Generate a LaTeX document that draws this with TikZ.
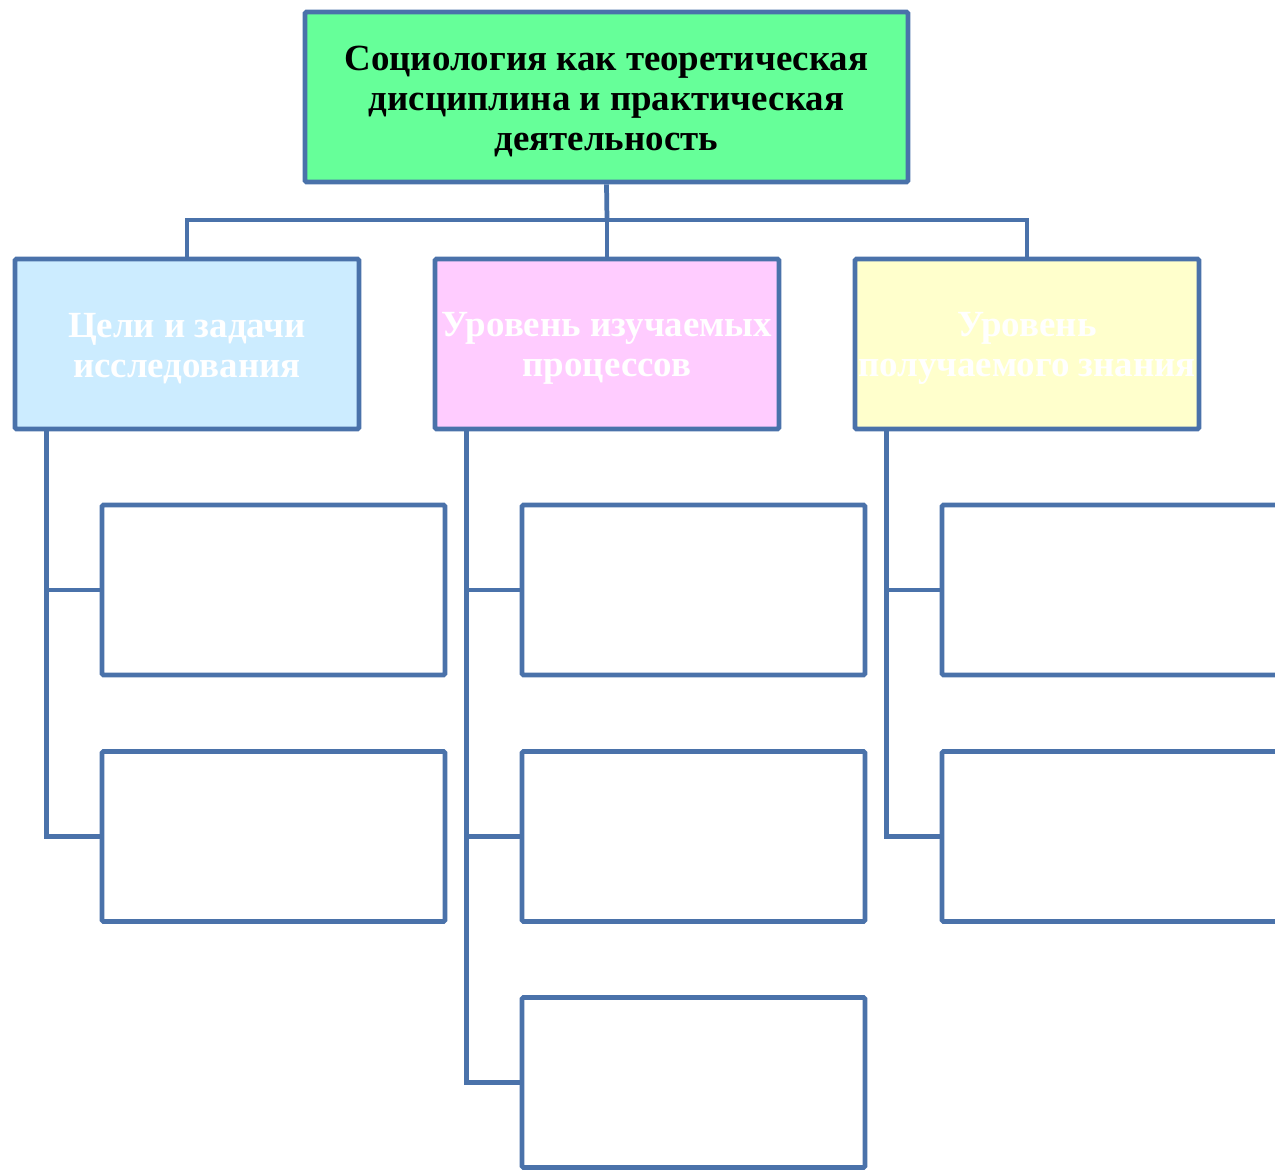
\documentclass[tikz,border=0pt]{standalone}
\usepackage{fontspec}
\setmainfont{Liberation Serif}
\definecolor{edge}{RGB}{74,114,170}
\definecolor{topfill}{RGB}{102,255,153}
\definecolor{bluefill}{RGB}{204,236,255}
\definecolor{pinkfill}{RGB}{255,204,255}
\definecolor{yellowfill}{RGB}{255,255,204}
\tikzset{
  box/.style={draw=edge, line width=2.7pt, rounded corners=0.8pt, minimum height=3.4cm, inner sep=0pt},
  boxtext/.style={align=center, yshift=-2.6pt, font=\fontsize{21}{22.8}\selectfont\bfseries},
  topbox/.style={box, fill=topfill, minimum width=12.06cm},
  headbox/.style={box, minimum width=6.88cm},
  leafbox/.style={box, fill=white, minimum width=6.86cm},
  link/.style={draw=edge, line width=2.7pt}
}
\begin{document}
\begin{tikzpicture}[x=0.02cm, y=-0.02cm]
\useasboundingbox (0,0) rectangle (1275,1171);
\node[topbox, label={[boxtext, text=black]center:Социология как теоретическая\\дисциплина и практическая\\деятельность}] (top) at (606.5,97) {};
\node[headbox, fill=bluefill, label={[boxtext, text=white]center:Цели и задачи\\исследования}] (A) at (187,344) {};
\node[headbox, fill=pinkfill, label={[boxtext, text=white]center:Уровень изучаемых\\процессов}] (B) at (607,344) {};
\node[headbox, fill=yellowfill, label={[boxtext, text=white]center:Уровень\\получаемого знания}] (C) at (1027,344) {};
\node[leafbox] (A1) at (273.5,590) {};
\node[leafbox] (A2) at (273.5,836.5) {};
\node[leafbox] (B1) at (693.5,590) {};
\node[leafbox] (B2) at (693.5,836.5) {};
\node[leafbox] (B3) at (693.5,1082.5) {};
\node[leafbox] (C1) at (1113.5,590) {};
\node[leafbox] (C2) at (1113.5,836.5) {};
\coordinate (bus) at (607,220);
\draw[link] (top.south) -- (bus);
\draw[link] (A.north) |- (bus) -| (C.north);
\draw[link] (bus) -- (B.north);
\draw[link] ([xshift=0.68cm]A.south west) |- (A2.west);
\draw[link] ([xshift=0.68cm]A.south west) |- (A1.west);
\draw[link] ([xshift=0.68cm]B.south west) |- (B3.west);
\draw[link] ([xshift=0.68cm]B.south west) |- (B2.west);
\draw[link] ([xshift=0.68cm]B.south west) |- (B1.west);
\draw[link] ([xshift=0.68cm]C.south west) |- (C2.west);
\draw[link] ([xshift=0.68cm]C.south west) |- (C1.west);
\end{tikzpicture}
\end{document}
